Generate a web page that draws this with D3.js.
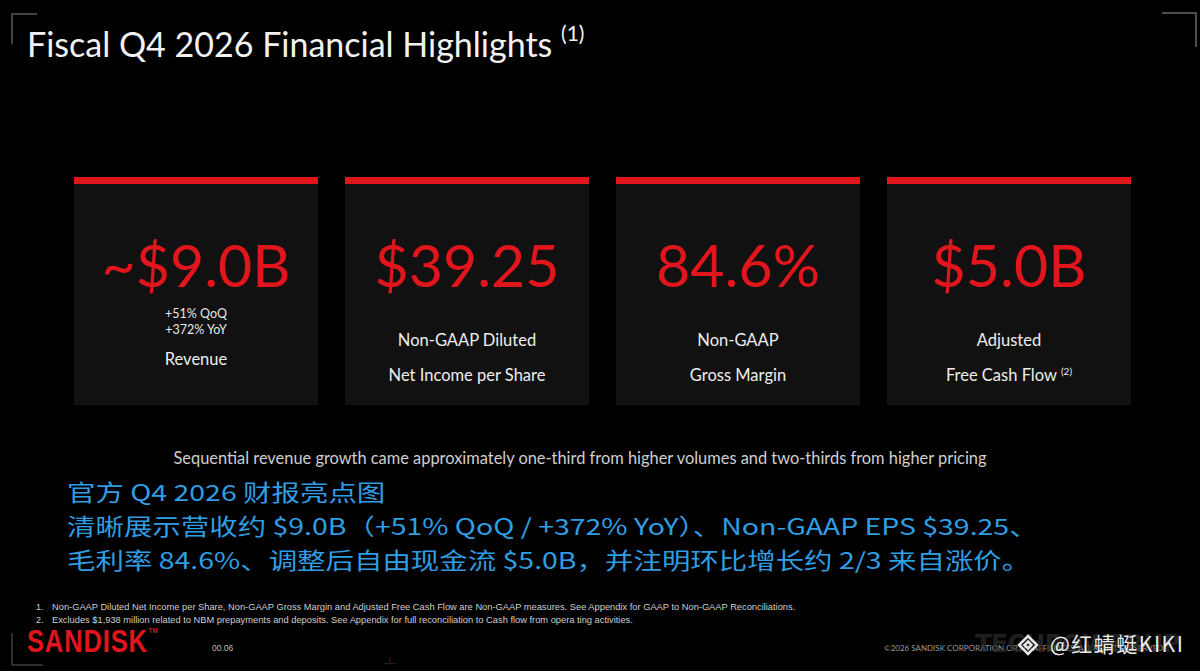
<!DOCTYPE html>
<html lang="en">
<head>
  <meta charset="UTF-8">
  <title>Fiscal Q4 2026 Financial Highlights</title>
  <script src="https://cdn.jsdelivr.net/npm/d3@7"></script>
  <style>
    html, body { margin: 0; padding: 0; background: #000; }
  </style>
</head>
<body>
  <div id="slide"></div>
  <script>

    // card contents
    var metrics = ["~$9.0B", "$39.25", "84.6%", "$5.0B"];
    var growth = [["+51% QoQ", "+372% YoY"], [], [], []];
    var labels = [["Revenue"], ["Non-GAAP Diluted", "Net Income per Share"], ["Non-GAAP", "Gross Margin"], ["Adjusted", "Free Cash Flow"]];
    var labelNotes = ["", "", "", "(2)"];

    var note = "Sequential revenue growth came approximately one-third from higher volumes and two-thirds from higher pricing";
    var cnLines = [
      "官方 Q4 2026 财报亮点图",
      "清晰展示营收约 $9.0B（+51% QoQ / +372% YoY）、Non-GAAP EPS $39.25、",
      "毛利率 84.6%、调整后自由现金流 $5.0B，并注明环比增长约 2/3 来自涨价。"
    ];
    var footnotes = [
      "Non-GAAP Diluted Net Income per Share, Non-GAAP Gross Margin and Adjusted Free Cash Flow are Non-GAAP measures. See Appendix for GAAP to Non-GAAP Reconciliations.",
      "Excludes $1,938 million related to NBM prepayments and deposits. See Appendix for full reconciliation to Cash flow from opera ting activities."
    ];

    var W = 1200, H = 671;
    var red = "#e0161c";
    var font = "Lato, 'Open Sans', sans-serif";

    var svg = d3.select("#slide")
      .append("svg")
      .attr("width", W)
      .attr("height", H)
      .style("display", "block")
      .style("background", "#000");

    // corner marks
    var corner = d3.line();
    svg.append("path").attr("d", corner([[12, 44], [12, 14], [37, 14]]))
      .attr("fill", "none").attr("stroke", "#5a5a5a").attr("stroke-width", 1.5);
    svg.append("path").attr("d", corner([[1162, 13], [1196, 13], [1196, 47]]))
      .attr("fill", "none").attr("stroke", "#6a6a6a").attr("stroke-width", 1.5);
    svg.append("path").attr("d", corner([[12, 633], [12, 665], [43, 665]]))
      .attr("fill", "none").attr("stroke", "#5a5a5a").attr("stroke-width", 1);

    // title
    var title = svg.append("text")
      .attr("x", 27)
      .attr("y", 57)
      .attr("fill", "#f2f2f2")
      .style("font-family", font)
      .style("font-size", "34px")
      .text("Fiscal Q4 2026 Financial Highlights ");
    title.append("tspan")
      .attr("dy", -16)
      .style("font-size", "21px")
      .text("(1)");

    // cards
    var x = d3.scaleBand()
      .domain(d3.range(metrics.length))
      .range([74, 1131])
      .paddingInner(0.0996)
      .paddingOuter(0);

    var y = d3.scaleLinear().domain([0, 1]).range([177, 405]);

    var cards = svg.selectAll("g.card")
      .data(metrics)
      .enter()
      .append("g")
      .attr("class", "card")
      .attr("transform", function (d, i) { return "translate(" + x(i) + ",0)"; });

    cards.append("rect")
      .attr("y", y(0))
      .attr("width", x.bandwidth())
      .attr("height", y(1) - y(0))
      .attr("fill", "#111111");

    cards.append("rect")
      .attr("y", y(0))
      .attr("width", x.bandwidth())
      .attr("height", 7)
      .attr("fill", red);

    cards.append("text")
      .attr("x", x.bandwidth() / 2)
      .attr("y", 287)
      .attr("text-anchor", "middle")
      .attr("fill", red)
      .style("font-family", font)
      .style("font-size", "59px")
      .text(function (d) { return d; });

    // growth lines and labels
    cards.each(function (d, i) {
      var g = d3.select(this);
      growth[i].forEach(function (s, j) {
        g.append("text")
          .attr("x", x.bandwidth() / 2)
          .attr("y", 318 + j * 16)
          .attr("text-anchor", "middle")
          .attr("fill", "#e6e6e6")
          .style("font-family", font)
          .style("font-size", "12.5px")
          .text(s);
      });
      var lab = labels[i];
      lab.forEach(function (s, j) {
        var baseY = lab.length === 1 ? 365 : 346 + j * 35;
        var t = g.append("text")
          .attr("x", x.bandwidth() / 2)
          .attr("y", baseY)
          .attr("text-anchor", "middle")
          .attr("fill", "#ededed")
          .style("font-family", font)
          .style("font-size", "16.5px")
          .text(s);
        if (j === lab.length - 1 && labelNotes[i]) {
          t.append("tspan")
            .attr("dx", 4)
            .attr("dy", -6)
            .style("font-size", "10px")
            .text(labelNotes[i]);
        }
      });
    });

    // pricing note
    svg.append("text")
      .attr("x", 580)
      .attr("y", 464)
      .attr("text-anchor", "middle")
      .attr("fill", "#cfcfcf")
      .style("font-family", font)
      .style("font-size", "16.4px")
      .text(note);

    // chinese caption (glyphs in the source are wider than they are tall)
    svg.append("g")
      .attr("transform", "translate(67,0) scale(1.265,1)")
      .selectAll("text.cn")
      .data(cnLines)
      .enter()
      .append("text")
      .attr("class", "cn")
      .attr("x", 0)
      .attr("y", function (d, i) { return 501 + i * 34; })
      .attr("fill", "#2f9ee3")
      .style("font-family", "'Noto Sans CJK SC', sans-serif")
      .style("font-size", "22.5px")
      .text(function (d) { return d; });

    // footnotes
    var fnFont = "'Liberation Sans Narrow', 'Liberation Sans', sans-serif";
    var fn = svg.selectAll("g.fn")
      .data(footnotes)
      .enter()
      .append("g")
      .attr("class", "fn")
      .attr("transform", function (d, i) { return "translate(0," + (610 + i * 13) + ")"; });
    fn.append("text")
      .attr("x", 36)
      .attr("fill", "#cfcfcf")
      .style("font-family", fnFont)
      .style("font-size", "9px")
      .text(function (d, i) { return (i + 1) + "."; });
    fn.append("text")
      .attr("x", 52)
      .attr("fill", "#cfcfcf")
      .style("font-family", fnFont)
      .style("font-size", "9.3px")
      .text(function (d) { return d; });

    // logo
    var logo = svg.append("g")
      .attr("transform", "translate(27,652) scale(0.8,1)")
      .append("text")
      .attr("fill", red)
      .style("font-family", "'Liberation Sans Narrow', sans-serif")
      .style("font-weight", "bold")
      .style("font-size", "32px")
      .style("letter-spacing", "1px")
      .text("SANDISK");
    logo.append("tspan")
      .attr("dy", -19)
      .attr("dx", 1)
      .attr("fill", "#c02020")
      .style("font-size", "8px")
      .style("letter-spacing", "0px")
      .text("TM");

    svg.append("text")
      .attr("x", 212)
      .attr("y", 651)
      .attr("fill", "#bdbdbd")
      .style("font-family", fnFont)
      .style("font-size", "8.5px")
      .text("00.06");

    svg.append("text")
      .attr("x", 390)
      .attr("y", 664)
      .attr("text-anchor", "middle")
      .attr("fill", "#555")
      .style("font-family", font)
      .style("font-size", "7px")
      .text("...|...");

    // copyright + watermark
    svg.append("text")
      .attr("x", 884)
      .attr("y", 651)
      .attr("fill", "#9a9a9a")
      .style("font-family", font)
      .style("font-size", "8px")
      .text("©2026 SANDISK CORPORATION OR ITS AFFILIATES. ALL RIGHTS RESERVED.");

    svg.append("text")
      .attr("x", 975)
      .attr("y", 652)
      .attr("fill", "#2e2e2e")
      .attr("opacity", 0.7)
      .style("font-family", "'DejaVu Sans', sans-serif")
      .style("font-weight", "bold")
      .style("font-size", "25px")
      .style("letter-spacing", "-1px")
      .text("TECHPOWERUP");

    var mark = svg.append("g").attr("transform", "translate(1028,645)");
    mark.append("path")
      .attr("d", "M0,-9 L9,0 L0,9 L-9,0 Z M0,-3.5 L3.5,0 L0,3.5 L-3.5,0 Z")
      .attr("fill", "none")
      .attr("stroke", "#e6e6e6")
      .attr("stroke-width", 2.5);
    svg.append("text")
      .attr("x", 1050)
      .attr("y", 652)
      .attr("fill", "#ececec")
      .style("font-family", "'Noto Sans CJK SC', sans-serif")
      .style("font-size", "21px")
      .style("letter-spacing", "1.5px")
      .text("@红蜻蜓KIKI");

  </script>
</body>
</html>
